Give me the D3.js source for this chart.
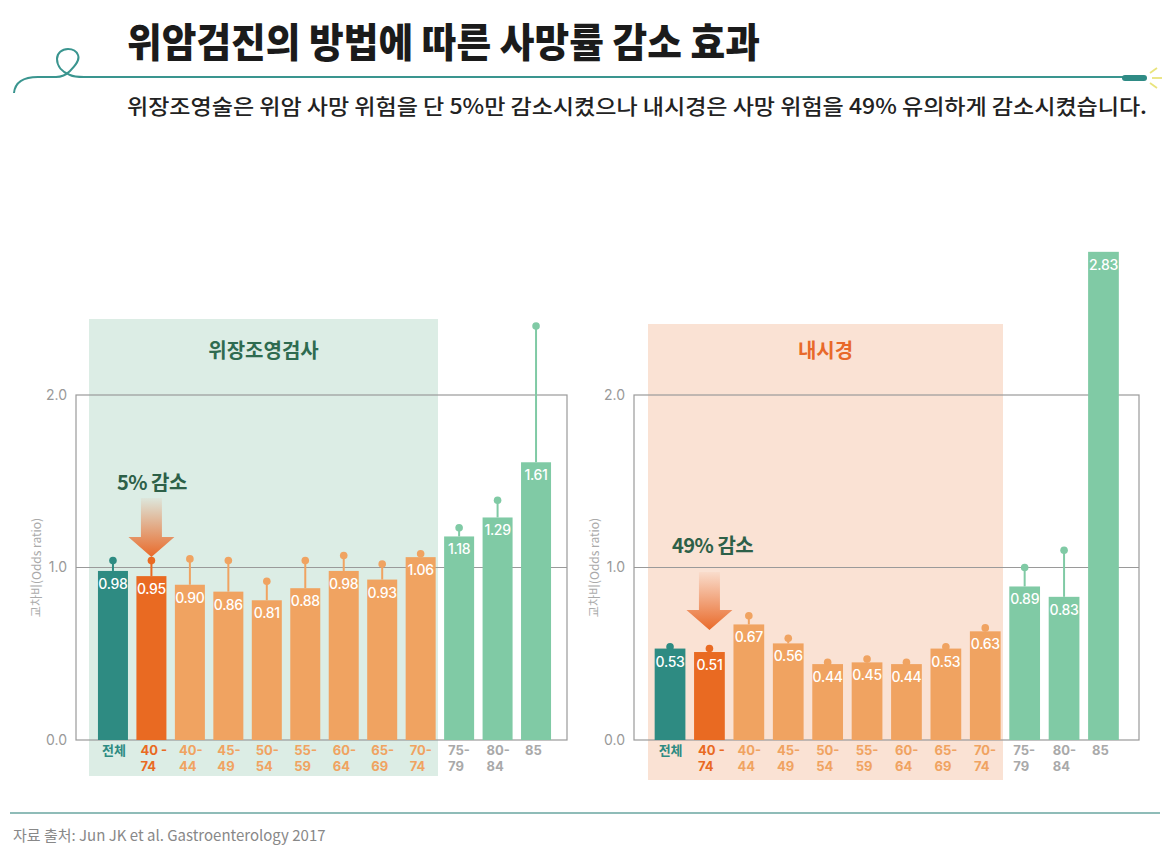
<!DOCTYPE html>
<html>
<head>
<meta charset="utf-8">
<script src="https://cdn.jsdelivr.net/npm/d3@7"></script>
<style>
  body { margin: 0; background: #fff; }
  svg { display: block; font-family: "Noto Sans CJK KR", "Noto Sans", sans-serif; }
</style>
</head>
<body>
<svg id="chart" width="1170" height="855"></svg>
<script>
// age groups on the x axis (first line / second line)
var groups = ["전체", "40-74", "40-44", "45-49", "50-54", "55-59", "60-64", "65-69", "70-74", "75-79", "80-84", "85"];
var groupLine1 = ["전체", "40 -", "40-", "45-", "50-", "55-", "60-", "65-", "70-", "75-", "80-", "85"];
var groupLine2 = ["", "74", "44", "49", "54", "59", "64", "69", "74", "79", "84", ""];
// kind of group, used for colour
var groupKind = ["all", "main", "age", "age", "age", "age", "age", "age", "age", "old", "old", "old"];

// odds ratio, upper gastrointestinal series (위장조영검사)
var ugisOR = [0.98, 0.95, 0.90, 0.86, 0.81, 0.88, 0.98, 0.93, 1.06, 1.18, 1.29, 1.61];
var ugisUpper = [1.04, 1.04, 1.05, 1.04, 0.92, 1.04, 1.07, 1.02, 1.08, 1.23, 1.39, 2.40];

// odds ratio, endoscopy (내시경)
var endoOR = [0.53, 0.51, 0.67, 0.56, 0.44, 0.45, 0.44, 0.53, 0.63, 0.89, 0.83, 2.83];
var endoUpper = [0.54, 0.53, 0.72, 0.59, 0.45, 0.47, 0.45, 0.54, 0.65, 1.00, 1.10, null];

var yTicks = [0, 1, 2];

var barColor = { all: "#2e8b82", main: "#e96a22", age: "#f0a361", old: "#80caa5" };
var tickColor = { all: "#2e8b82", main: "#e96a22", age: "#f0a361", old: "#a9a9a9" };

var numFont = "Inter, 'Noto Sans CJK KR', sans-serif";

var svg = d3.select("#chart");

// header
svg.append("text")
  .attr("x", 127).attr("y", 57)
  .attr("font-size", 40).attr("font-weight", 900)
  .attr("fill", "#1b1b1b")
  .attr("textLength", 633).attr("lengthAdjust", "spacingAndGlyphs")
  .text("위암검진의 방법에 따른 사망률 감소 효과");

svg.append("path")
  .attr("d", "M14,93 C15,83 23,77 38,77 L56,77 C62,77 66,75 70,71 C76,65 80,60 78,55 C76,50 72,49 68,49 C62,49 57,53 57,59 C57,66 62,72 70,75 C74,77 78,77 84,77 L1125,77")
  .attr("fill", "none").attr("stroke", "#3a958f").attr("stroke-width", 2);
svg.append("rect")
  .attr("x", 1122).attr("y", 75).attr("width", 25).attr("height", 6).attr("rx", 3)
  .attr("fill", "#2f8b85");
[[1150, 73, 1157, 68], [1152, 78, 1162, 78], [1150, 83, 1157, 88]].forEach(function(s) {
  svg.append("line")
    .attr("x1", s[0]).attr("y1", s[1]).attr("x2", s[2]).attr("y2", s[3])
    .attr("stroke", "#e9e47c").attr("stroke-width", 1.8);
});

svg.append("text")
  .attr("x", 127).attr("y", 114)
  .attr("font-size", 21).attr("font-weight", 500).attr("fill", "#222")
  .attr("textLength", 1020).attr("lengthAdjust", "spacingAndGlyphs")
  .text("위장조영술은 위암 사망 위험을 단 5%만 감소시켰으나 내시경은 사망 위험을 49% 유의하게 감소시켰습니다.");

// arrow gradient
var defs = svg.append("defs");
var grad = defs.append("linearGradient").attr("id", "arrowGrad")
  .attr("x1", 0).attr("y1", 0).attr("x2", 0).attr("y2", 1);
grad.append("stop").attr("offset", "0%").attr("stop-color", "#e96a2a").attr("stop-opacity", 0.05);
grad.append("stop").attr("offset", "100%").attr("stop-color", "#e96a2a").attr("stop-opacity", 1);

function drawPanel(opt) {
  var g = svg.append("g");

  var y = d3.scaleLinear().domain([0, 2]).range([740, 395]);
  var x = d3.scaleBand().domain(groups).range(opt.xRange).padding(0.22);

  // highlight area
  g.append("rect")
    .attr("x", opt.bg[0]).attr("y", opt.bg[1])
    .attr("width", opt.bg[2] - opt.bg[0]).attr("height", opt.bg[3] - opt.bg[1])
    .attr("fill", opt.bgColor);

  g.append("text")
    .attr("x", (opt.bg[0] + opt.bg[2]) / 2).attr("y", 358)
    .attr("text-anchor", "middle")
    .attr("font-size", 20).attr("font-weight", 700)
    .attr("fill", opt.titleColor)
    .text(opt.title);

  // frame and grid
  var box = g.append("g").attr("stroke", "#9a9a9a").attr("stroke-width", 1.2).attr("fill", "none");
  box.append("rect")
    .attr("x", opt.axisX).attr("y", y(2))
    .attr("width", opt.boxRight - opt.axisX).attr("height", y(0) - y(2));
  box.append("line")
    .attr("x1", opt.axisX).attr("x2", opt.boxRight)
    .attr("y1", y(1)).attr("y2", y(1));

  var yAxis = g.append("g")
    .attr("transform", "translate(" + opt.axisX + ",0)")
    .call(d3.axisLeft(y).tickValues(yTicks).tickFormat(d3.format(".1f")).tickSize(0).tickPadding(9));
  yAxis.select(".domain").remove();
  yAxis.selectAll("text")
    .attr("font-size", 14).attr("fill", "#999")
    .attr("font-family", numFont);

  g.append("text")
    .attr("transform", "translate(" + (opt.axisX - 35) + "," + y(1) + ") rotate(-90)")
    .attr("text-anchor", "middle")
    .attr("font-size", 12).attr("fill", "#aaa")
    .text("교차비(Odds ratio)");

  // whiskers
  var rows = groups.map(function(d, i) {
    return { group: d, kind: groupKind[i], value: opt.values[i], upper: opt.upper[i], l1: groupLine1[i], l2: groupLine2[i] };
  });
  var ci = rows.filter(function(d) { return d.upper != null; });
  g.selectAll(".whisker").data(ci).enter().append("line")
    .attr("x1", function(d) { return x(d.group) + x.bandwidth() / 2; })
    .attr("x2", function(d) { return x(d.group) + x.bandwidth() / 2; })
    .attr("y1", function(d) { return y(d.value); })
    .attr("y2", function(d) { return y(d.upper); })
    .attr("stroke", function(d) { return barColor[d.kind]; })
    .attr("stroke-width", 2);
  g.selectAll(".dot").data(ci).enter().append("circle")
    .attr("cx", function(d) { return x(d.group) + x.bandwidth() / 2; })
    .attr("cy", function(d) { return y(d.upper); })
    .attr("r", 3.8)
    .attr("fill", function(d) { return barColor[d.kind]; });

  // bars
  g.selectAll(".bar").data(rows).enter().append("rect")
    .attr("x", function(d) { return x(d.group); })
    .attr("y", function(d) { return y(d.value); })
    .attr("width", x.bandwidth())
    .attr("height", function(d) { return y(0) - y(d.value); })
    .attr("fill", function(d) { return barColor[d.kind]; });

  g.selectAll(".val").data(rows).enter().append("text")
    .attr("x", function(d) { return x(d.group) + x.bandwidth() / 2; })
    .attr("y", function(d) { return y(d.value) + 18; })
    .attr("text-anchor", "middle")
    .attr("font-family", numFont)
    .attr("font-size", 14).attr("font-weight", 500)
    .attr("letter-spacing", -0.3)
    .attr("fill", "#fff")
    .text(function(d) { return d.value.toFixed(2); });

  // x labels, two lines
  g.selectAll(".xlab1").data(rows).enter().append("text")
    .attr("x", function(d) { return x(d.group) + 4; })
    .attr("y", 755)
    .attr("font-family", numFont)
    .attr("font-size", 13).attr("font-weight", 700)
    .attr("fill", function(d) { return tickColor[d.kind]; })
    .text(function(d) { return d.l1; });
  g.selectAll(".xlab2").data(rows.filter(function(d) { return d.l2; })).enter().append("text")
    .attr("x", function(d) { return x(d.group) + 4; })
    .attr("y", 771)
    .attr("font-family", numFont)
    .attr("font-size", 13).attr("font-weight", 700)
    .attr("fill", function(d) { return tickColor[d.kind]; })
    .text(function(d) { return d.l2; });

  // annotation: arrow over the 40-74 bar
  var cx = x("40-74") + x.bandwidth() / 2;
  var top = opt.arrowTop, tip = opt.arrowTip;
  var headY = tip - 20;
  g.append("path")
    .attr("d", "M" + (cx - 10.5) + "," + top + "L" + (cx + 10.5) + "," + top +
      "L" + (cx + 10.5) + "," + headY + "L" + (cx + 23) + "," + headY +
      "L" + cx + "," + tip + "L" + (cx - 23) + "," + headY +
      "L" + (cx - 10.5) + "," + headY + "Z")
    .attr("fill", "url(#arrowGrad)");
  g.append("text")
    .attr("x", opt.noteX).attr("y", opt.noteY)
    .attr("font-size", 20).attr("font-weight", 700)
    .attr("fill", "#2d6048")
    .attr("letter-spacing", -0.5)
    .text(opt.note);
}

drawPanel({
  title: "위장조영검사", titleColor: "#2e6b50",
  bg: [89, 319, 438, 776], bgColor: "#dcede5",
  axisX: 76, boxRight: 567, xRange: [89.5, 559.5],
  values: ugisOR, upper: ugisUpper,
  note: "5% 감소", noteX: 117, noteY: 490,
  arrowTop: 498, arrowTip: 557
});

drawPanel({
  title: "내시경", titleColor: "#e8692a",
  bg: [648, 324, 1003, 780], bgColor: "#fae2d4",
  axisX: 634, boxRight: 1139, xRange: [646, 1127.5],
  values: endoOR, upper: endoUpper,
  note: "49% 감소", noteX: 672, noteY: 553,
  arrowTop: 572, arrowTip: 630
});

// footer
svg.append("line")
  .attr("x1", 10).attr("x2", 1160).attr("y1", 813).attr("y2", 813)
  .attr("stroke", "#6aa6a1").attr("stroke-width", 1.5);
svg.append("text")
  .attr("x", 13).attr("y", 841)
  .attr("font-size", 15).attr("fill", "#888")
  .text("자료 출처: Jun JK et al. Gastroenterology 2017");
</script>
</body>
</html>
